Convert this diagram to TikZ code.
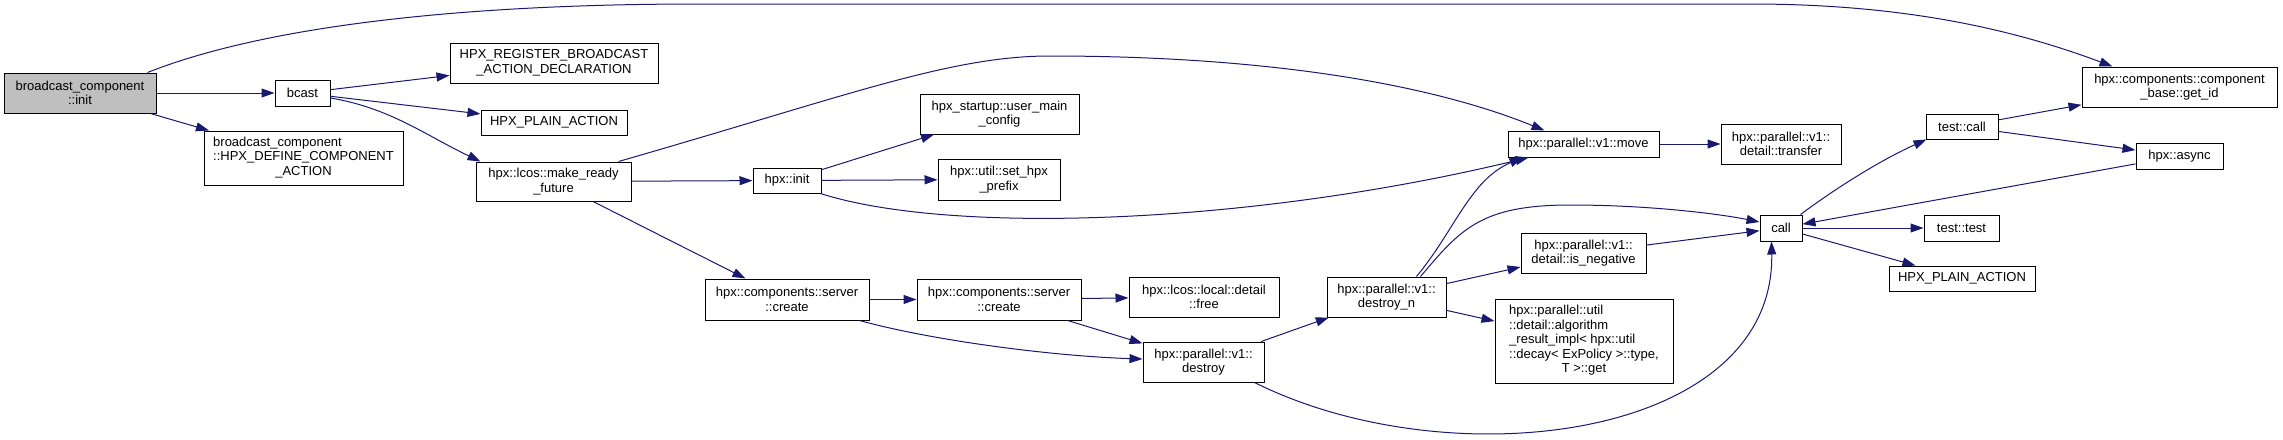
\documentclass[tikz,border=0pt]{standalone}
\usepackage{fontspec}
\setmainfont{Liberation Sans}
\usetikzlibrary{arrows.meta}

\definecolor{edgeblue}{HTML}{191970}
\definecolor{initgray}{HTML}{BFBFBF}

\tikzset{
  fn/.style={draw=black, fill=white, line width=1pt, inner sep=0pt, align=center,
    font=\fontsize{13}{14.5}\selectfont},
  link/.style={draw=edgeblue, line width=1pt, -{Triangle[length=13pt,width=9pt]}}
}

\begin{document}
\begin{tikzpicture}[x=1pt,y=-1pt]

\useasboundingbox (0,0) rectangle (2283,439);

% nodes
\node[fn, fill=initgray, minimum width=152, minimum height=40] (init) at (80,93) {broadcast\_component\\::init};
\node[fn, minimum width=55, minimum height=26] (bcast) at (302.5,93) {bcast};
\node[fn, minimum width=199, minimum height=54] (defact) at (303.5,158)
  {\begin{tabular}{@{}l@{}}broadcast\_component\\::HPX\_DEFINE\_COMPONENT\\\multicolumn{1}{@{}c@{}}{\_ACTION}\end{tabular}};
\node[fn, minimum width=208, minimum height=40] (reg) at (554,63) {HPX\_REGISTER\_BROADCAST\\\_ACTION\_DECLARATION};
\node[fn, minimum width=146, minimum height=25] (plaina) at (554,122.5) {HPX\_PLAIN\_ACTION};
\node[fn, minimum width=155, minimum height=39] (mrf) at (553.5,181.5) {hpx::lcos::make\_ready\\\_future};
\node[fn, minimum width=68, minimum height=25] (hinit) at (787,180.5) {hpx::init};
\node[fn, minimum width=164, minimum height=41] (createa) at (787,299.5) {hpx::components::server\\::create};
\node[fn, minimum width=159, minimum height=40] (umc) at (999.5,114) {hpx\_startup::user\_main\\\_config};
\node[fn, minimum width=122, minimum height=41] (prefix) at (999,179.5) {hpx::util::set\_hpx\\\_prefix};
\node[fn, minimum width=164, minimum height=41] (createb) at (999,299.5) {hpx::components::server\\::create};
\node[fn, minimum width=150, minimum height=40] (free) at (1204,297) {hpx::lcos::local::detail\\::free};
\node[fn, minimum width=121, minimum height=40] (destroy) at (1203.5,362) {hpx::parallel::v1::\\destroy};
\node[fn, minimum width=119, minimum height=40] (destroyn) at (1386.5,297) {hpx::parallel::v1::\\destroy\_n};
\node[fn, minimum width=151, minimum height=26] (move) at (1583.5,144) {hpx::parallel::v1::move};
\node[fn, minimum width=125, minimum height=40] (isneg) at (1583.5,253) {hpx::parallel::v1::\\detail::is\_negative};
\node[fn, minimum width=178, minimum height=84] (algo) at (1584,341)
  {\begin{tabular}{@{}l@{}}hpx::parallel::util\\::detail::algorithm\\\_result\_impl< hpx::util\\::decay< ExPolicy >::type,\\\multicolumn{1}{@{}c@{}}{T >::get}\end{tabular}};
\node[fn, minimum width=120, minimum height=40] (transfer) at (1781,144) {hpx::parallel::v1::\\detail::transfer};
\node[fn, minimum width=42, minimum height=26] (call) at (1781,228) {call};
\node[fn, minimum width=72, minimum height=25] (testcall) at (1962,126.5) {test::call};
\node[fn, minimum width=75, minimum height=26] (testtest) at (1961.5,228) {test::test};
\node[fn, minimum width=146, minimum height=25] (plainb) at (1962,278.5) {HPX\_PLAIN\_ACTION};
\node[fn, minimum width=195, minimum height=40] (getid) at (2179.5,87) {hpx::components::component\\\_base::get\_id};
\node[fn, minimum width=87, minimum height=26] (async) at (2179.5,156) {hpx::async};

% calls
\draw[link] (init) -- (bcast);
\draw[link] (init) -- (defact);
\draw[link] ([xshift=-9pt]init.north east) .. controls (260,28) and (450,4) .. (700,4)
  -- (1750,4) .. controls (1900,4) and (2010,28) .. ([xshift=31pt]getid.north west);
\draw[link] (bcast) -- (reg);
\draw[link] (bcast) -- (plaina);
\draw[link] ([yshift=-5pt]bcast.east) .. controls (390,108) and (425,135) .. ([xshift=5pt]mrf.north west);
\draw[link] ([xshift=-13pt]mrf.north east) .. controls (850,95) and (950,56) .. (1050,56)
  .. controls (1250,56) and (1420,80) .. ([xshift=37pt]move.north west);
\draw[link] (mrf) -- (hinit);
\draw[link] (mrf) -- (createa);
\draw[link] (hinit) -- (umc);
\draw[link] (hinit) -- (prefix);
\draw[link] ([xshift=-1pt]hinit.south east) .. controls (950,235) and (1250,225) .. ([xshift=21pt]move.south west);
\draw[link] (createa) -- (createb);
\draw[link] ([xshift=-10pt]createa.south east) .. controls (930,340) and (1050,356) .. ([yshift=3pt]destroy.west);
\draw[link] (createb) -- (free);
\draw[link] (createb) -- (destroy);
\draw[link] (destroy) -- (destroyn);
\draw[link] ([xshift=-10pt]destroy.south east) .. controls (1450,480) and (1775,440) .. ([xshift=12pt]call.south west);
\draw[link] ([xshift=30pt]destroyn.north) .. controls (1455,230) and (1470,180) .. ([xshift=15pt]move.south west);
\draw[link] ([xshift=34pt]destroyn.north) .. controls (1460,230) and (1480,205) .. (1570,205)
  .. controls (1650,205) and (1720,214) .. ([yshift=6pt]call.west);
\draw[link] (destroyn) -- (isneg);
\draw[link] (destroyn) -- (algo);
\draw[link] (move) -- (transfer);
\draw[link] (isneg) -- (call);
\draw[link] ([xshift=-2pt]call.north east) .. controls (1840,185) and (1885,158) .. ([xshift=1pt]testcall.south west);
\draw[link] (call) -- (testtest);
\draw[link] (call) -- (plainb);
\draw[link] (testcall) -- (getid);
\draw[link] (testcall) -- (async);
\draw[link] (async) -- (call);

\end{tikzpicture}
\end{document}
